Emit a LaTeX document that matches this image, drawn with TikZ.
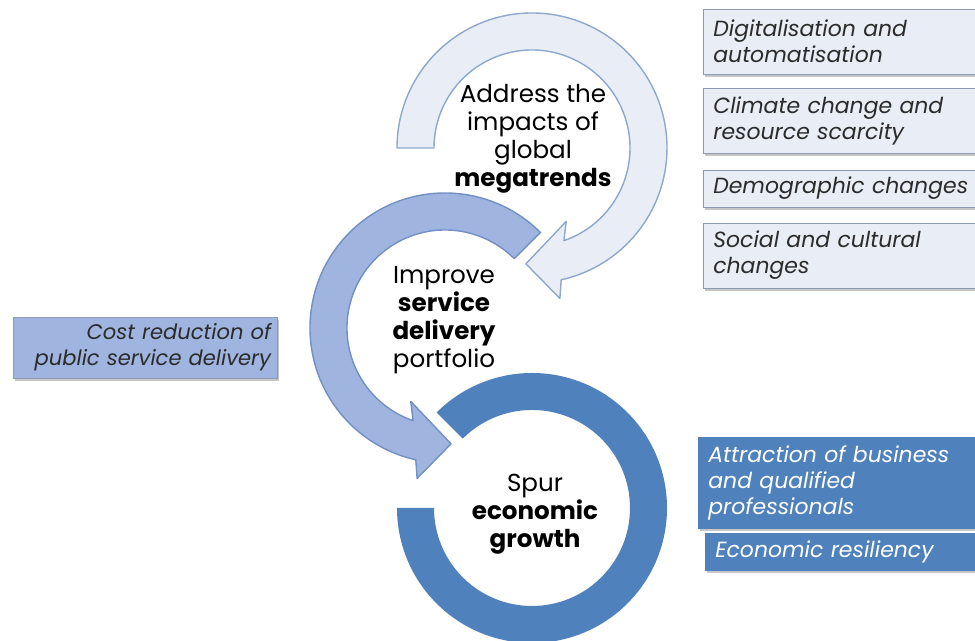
\documentclass[tikz,border=0pt]{standalone}
\usepackage{fontspec}
\setmainfont{Poppins}
\usetikzlibrary{shadows}

\definecolor{trendfill}{HTML}{E9EEF6}
\definecolor{trendline}{HTML}{8EA7CC}
\definecolor{servfill}{HTML}{9FB4DE}
\definecolor{servline}{HTML}{7190C4}
\definecolor{growfill}{HTML}{4F81BD}
\definecolor{boxline}{HTML}{8C9BB3}
\definecolor{txtgray}{HTML}{2B2B2B}

\tikzset{
  trendarrow/.style={draw=trendline, fill=trendfill, line width=0.8pt, line join=round},
  servarrow/.style={draw=servline, fill=servfill, line width=0.8pt, line join=round},
  growring/.style={fill=growfill},
  goal/.style={align=center, text=black, font=\fontsize{14}{16}\selectfont},
  factor/.style={anchor=west, align=left, inner xsep=0.16cm, minimum width=6cm, text width=5.6cm,
    font=\itshape\fontsize{12.5}{14.8}\selectfont,
    drop shadow={shadow xshift=1.2pt, shadow yshift=-1.6pt, opacity=0.45}},
  trendbox/.style={factor, draw=boxline, fill=trendfill, text=txtgray},
  growbox/.style={factor, draw=growfill, fill=growfill, text=white},
}

\begin{document}
\begin{tikzpicture}[x=0.02cm, y=0.02cm]
	\useasboundingbox (0,0) rectangle (975,641);

	% top arrow: megatrends
	\begin{scope}[shift={(532,493)}]
		\draw[trendarrow] (180:135) arc[start angle=180, end angle=-77.5, radius=135]
			-- (-79.5:153) -- (-93:116) -- (-65:81) -- (-71:98)
			arc[start angle=-71, end angle=180, radius=98] -- cycle;
	\end{scope}

	% middle arrow: service delivery
	\begin{scope}[shift={(445,313)}]
		\draw[servarrow] (45:135) arc[start angle=45, end angle=257.5, radius=135]
			-- (259.5:153) -- (273:116) -- (245:81) -- (251:98)
			arc[start angle=251, end angle=45, radius=98] -- cycle;
	\end{scope}

	% bottom ring: growth
	\begin{scope}[shift={(532,133)}]
		\fill[growring] (180:135) arc[start angle=180, end angle=495, radius=135]
			-- (135:98) arc[start angle=495, end angle=180, radius=98] -- cycle;
	\end{scope}

	\node[goal] (trends) at (533,502) {Address the\\impacts of\\global\\\textbf{megatrends}};
	\node[goal] (service) at (444,321) {Improve\\\textbf{service}\\\textbf{delivery}\\portfolio};
	\node[goal] (growth) at (535,127) {Spur\\\textbf{economic}\\\textbf{growth}};

	\node[trendbox, minimum height=1.3cm] (digital) at (703,599.5) {Digitalisation and\\automatisation};
	\node[trendbox, minimum height=1.3cm] (climate) at (703,520.5) {Climate change and\\resource scarcity};
	\node[trendbox, minimum height=0.74cm] (demo) at (703,452.5) {Demographic changes};
	\node[trendbox, minimum height=1.3cm] (social) at (703,385.5) {Social and cultural\\changes};

	\node[factor, anchor=center, draw=boxline, fill=servfill, text=txtgray, align=right,
		font=\itshape\fontsize{12}{14.8}\selectfont, inner xsep=0.12cm,
		minimum width=5.28cm, text width=5.04cm, minimum height=1.22cm] (cost) at (145,293.5)
		{Cost reduction of\\public service delivery};

	\node[growbox, minimum height=1.82cm] (attract) at (698,158.5) {Attraction of business\\and qualified\\professionals};
	\node[growbox, minimum height=0.74cm] (resil) at (705,89.5) {Economic resiliency};
\end{tikzpicture}
\end{document}
